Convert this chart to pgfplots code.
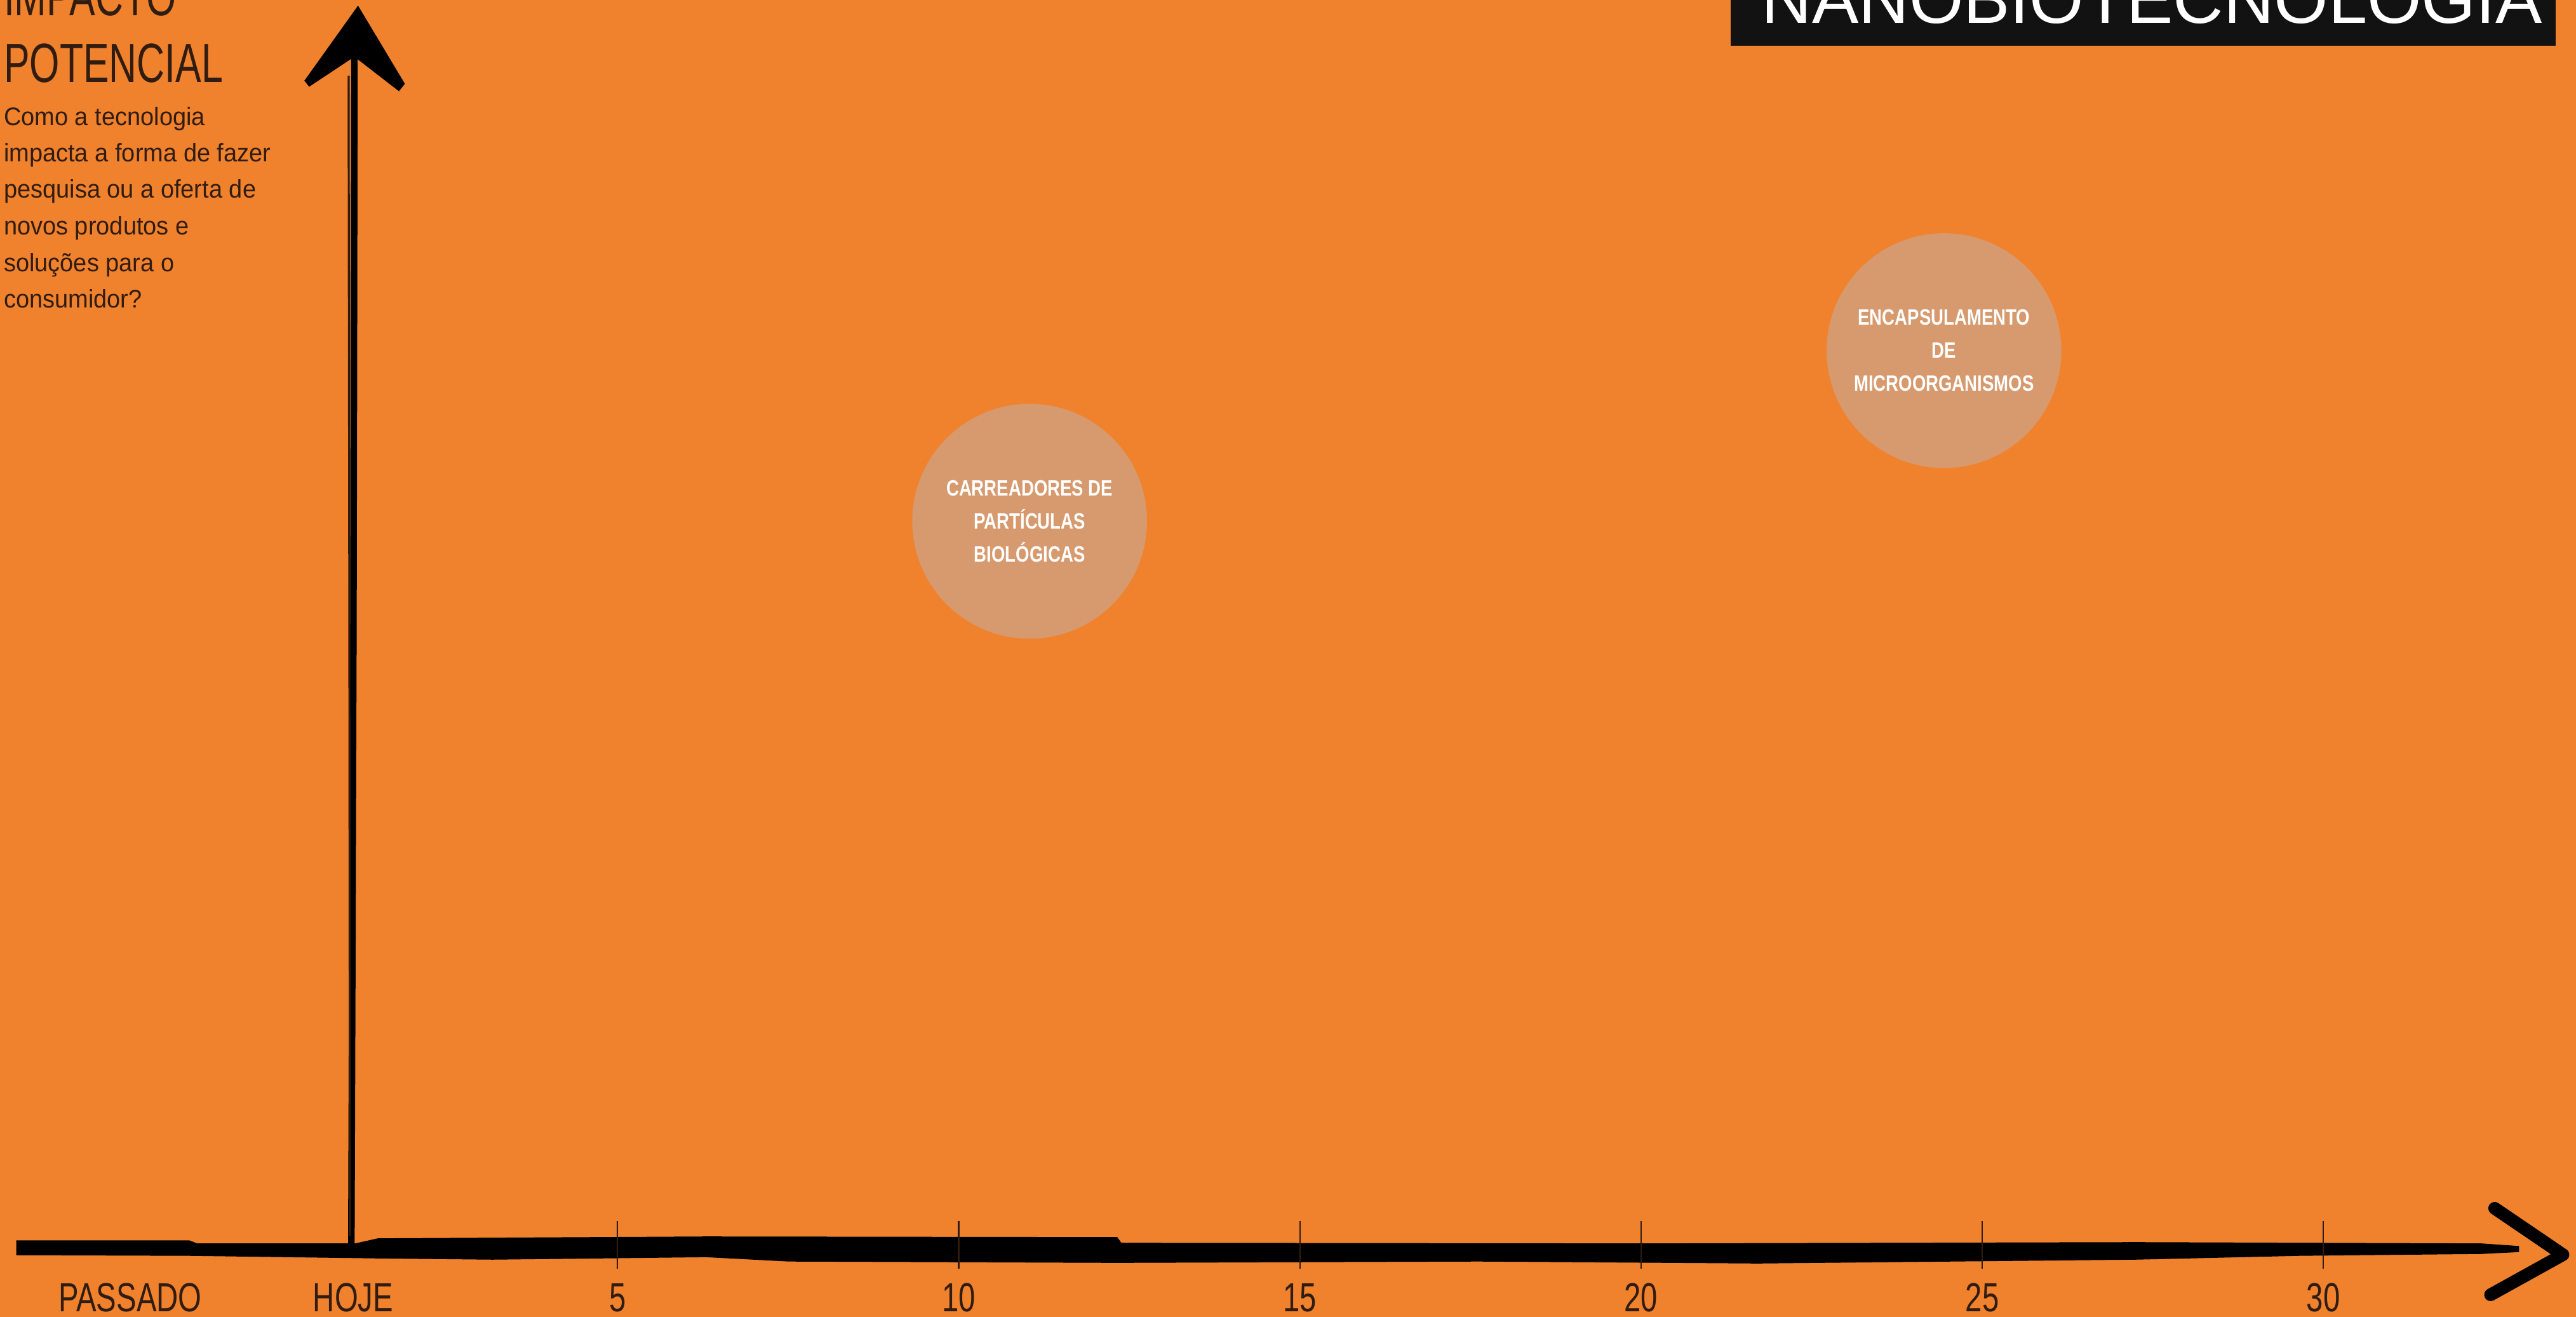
\documentclass[border=0pt]{standalone}
\usepackage{pgfplots}
\pgfplotsset{compat=1.18}
\usepackage{fontspec}
\setmainfont{Liberation Sans}
\newfontfamily\condfont{Liberation Sans}[FakeStretch=0.70]
\newfontfamily\labfont{Liberation Sans}[FakeStretch=0.74]
\newfontfamily\bodyfont{Liberation Sans}[FakeStretch=0.95]
\newfontfamily\bubfont{Liberation Sans}[FakeStretch=0.79]
\definecolor{bgorange}{RGB}{240,130,46}
\definecolor{bubble}{RGB}{214,154,110}
\definecolor{ink}{RGB}{48,28,16}
\definecolor{titlebox}{RGB}{18,18,18}
\tikzset{xlab/.style={font=\labfont\fontsize{16pt}{19pt}\selectfont, text=ink, anchor=base, inner sep=0pt},
  body/.style={font=\bodyfont\fontsize{10pt}{12pt}\selectfont, text=ink, anchor=base west, inner sep=0pt},
  big/.style={font=\condfont\fontsize{21.75pt}{26pt}\selectfont, inner sep=0pt}}

\begin{document}
\begin{tikzpicture}
\useasboundingbox (0,0) rectangle (1014pt,518.25pt);
\fill[bgorange] (0,0) rectangle (1014pt,518.25pt);
\clip (0,0) rectangle (1014pt,518.25pt);
\begin{axis}[at={(0,0)}, anchor=south west,
  width=1014pt, height=518.25pt, scale only axis,
  hide axis, clip=false,
  xmin=-4.049, xmax=33.703, ymin=-0.553, ymax=10.061]

% brush-stroke horizontal axis
\addplot[fill=black, draw=black, line width=0.4pt] coordinates {
 (-3.81,0.061) (-1.28,0.061) (-1.16,0.036) (1.16,0.036) (1.49,0.077)
 (6.30,0.092) (12.32,0.087) (12.38,0.041) (20.03,0.036) (27.25,0.046)
 (32.31,0.036) (32.86,0.015)
 (32.86,-0.026) (32.31,-0.041) (29.65,-0.056) (27.25,-0.087) (21.71,-0.118)
 (17.62,-0.102) (12.32,-0.113) (7.51,-0.102) (6.30,-0.067) (3.17,-0.087)
 (1.49,-0.077) (-1.28,-0.056) (-3.81,-0.051)};
% arrow head of horizontal axis
\addplot[black, line width=5pt, line join=round, line cap=round] coordinates {
 (32.51,0.323) (33.51,-0.051) (32.45,-0.374)};

% vertical axis shaft
\addplot[black, line width=2.6pt] coordinates {(1.145,9.60) (1.13,5.0) (1.10,0.04)};
\addplot[black!80!bgorange, line width=0.8pt] coordinates {(1.06,9.45) (1.07,5.0) (1.08,0.1)};
% vertical arrow head
\addplot[fill=black, draw=black, line width=0.6pt] coordinates {
 (1.191,10.010) (1.871,9.386) (1.796,9.334) (1.145,9.611) (0.484,9.370) (0.419,9.416)};

% tick marks
\pgfplotsinvokeforeach{5,10,15,20,25,30}{
  \addplot[ink, line width=0.55pt] coordinates {(#1,0.22) (#1,-0.164)};
}

% bubbles with their labels
\addplot[only marks, mark=*, mark size=46pt, mark options={fill=bubble, draw=bubble},
  point meta=explicit symbolic, nodes near coords,
  every node near coord/.append style={font=\bubfont\bfseries\fontsize{8.73pt}{13pt}\selectfont,
     text=white, align=center, inner sep=0pt, anchor=center}]
 table[meta=label] {
x y label
11.04 5.86 {CARREADORES DE\\PARTÍCULAS\\BIOLÓGICAS}
24.44 7.235 {ENCAPSULAMENTO\\DE\\MICROORGANISMOS}
};

% x labels
\node[xlab] at (axis cs:-2.141,-0.512) {PASSADO};
\node[xlab] at (axis cs:1.126,-0.512) {HOJE};
\node[xlab] at (axis cs:5,-0.512) {5};
\node[xlab] at (axis cs:10,-0.512) {10};
\node[xlab] at (axis cs:15,-0.512) {15};
\node[xlab] at (axis cs:20,-0.512) {20};
\node[xlab] at (axis cs:25,-0.512) {25};
\node[xlab] at (axis cs:30,-0.512) {30};

% title box
\fill[titlebox] (axis cs:21.31,9.693) rectangle (axis cs:33.40,10.3);
\node[font=\fontsize{27.5pt}{32pt}\selectfont, inner sep=0pt, text=white, anchor=base east] at (axis cs:33.21,9.872) {NANOBIOTECNOLOGIA};

% y-axis title
\node[big, text=ink, anchor=base west] at (axis cs:-4.0,9.933) {IMPACTO};
\node[big, text=ink, anchor=base west] at (axis cs:-4.0,9.396) {POTENCIAL};
\node[body] at (axis cs:-4.0,9.048) {Como a tecnologia};
\node[body] at (axis cs:-4.0,8.756) {impacta a forma de fazer};
\node[body] at (axis cs:-4.0,8.464) {pesquisa ou a oferta de};
\node[body] at (axis cs:-4.0,8.167) {novos produtos e};
\node[body] at (axis cs:-4.0,7.870) {soluções para o};
\node[body] at (axis cs:-4.0,7.578) {consumidor?};
\end{axis}
\end{tikzpicture}
\end{document}
